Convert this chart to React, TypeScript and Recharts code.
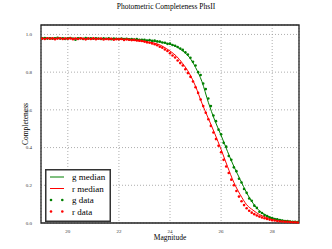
import {
  ComposedChart,
  Line,
  Scatter,
  XAxis,
  YAxis,
  CartesianGrid,
  Legend,
  ReferenceArea,
} from "recharts";

// median curves (magnitude -> completeness)
const medMags = [
  19, 20, 21, 22, 22.5, 23, 23.5, 24, 24.25, 24.5, 24.75, 25, 25.25, 25.5, 25.75, 26, 26.25, 26.5,
  26.75, 27, 27.25, 27.5, 27.75, 28, 28.25, 28.5, 28.75, 29,
];
const gMedian = [
  0.98, 0.98, 0.979, 0.977, 0.975, 0.97, 0.962, 0.948, 0.935, 0.912, 0.88, 0.825, 0.75, 0.64, 0.545,
  0.465, 0.38, 0.3, 0.23, 0.16, 0.105, 0.065, 0.042, 0.027, 0.018, 0.012, 0.008, 0.005,
];
const rMedian = [
  0.98, 0.979, 0.978, 0.975, 0.97, 0.962, 0.95, 0.912, 0.885, 0.845, 0.795, 0.725, 0.635, 0.555,
  0.475, 0.39, 0.3, 0.215, 0.15, 0.097, 0.068, 0.045, 0.031, 0.021, 0.015, 0.01, 0.007, 0.004,
];

// measured points, one every 0.1 mag from 19.0 to 29.0
const dataMags = [
  19.0, 19.1, 19.2, 19.3, 19.4, 19.5, 19.6, 19.7, 19.8, 19.9,
  20.0, 20.1, 20.2, 20.3, 20.4, 20.5, 20.6, 20.7, 20.8, 20.9,
  21.0, 21.1, 21.2, 21.3, 21.4, 21.5, 21.6, 21.7, 21.8, 21.9,
  22.0, 22.1, 22.2, 22.3, 22.4, 22.5, 22.6, 22.7, 22.8, 22.9,
  23.0, 23.1, 23.2, 23.3, 23.4, 23.5, 23.6, 23.7, 23.8, 23.9,
  24.0, 24.1, 24.2, 24.3, 24.4, 24.5, 24.6, 24.7, 24.8, 24.9,
  25.0, 25.1, 25.2, 25.3, 25.4, 25.5, 25.6, 25.7, 25.8, 25.9,
  26.0, 26.1, 26.2, 26.3, 26.4, 26.5, 26.6, 26.7, 26.8, 26.9,
  27.0, 27.1, 27.2, 27.3, 27.4, 27.5, 27.6, 27.7, 27.8, 27.9,
  28.0, 28.1, 28.2, 28.3, 28.4, 28.5, 28.6, 28.7, 28.8, 28.9,
  29.0,
];
const gData = [
  0.979, 0.981, 0.978, 0.98, 0.977, 0.979, 0.982, 0.978, 0.98, 0.976,
  0.979, 0.981, 0.977, 0.972, 0.979, 0.98, 0.976, 0.981, 0.978, 0.979,
  0.977, 0.98, 0.978, 0.976, 0.979, 0.977, 0.98, 0.975, 0.978, 0.977,
  0.976, 0.978, 0.975, 0.977, 0.974, 0.976, 0.973, 0.975, 0.972, 0.971,
  0.972, 0.968, 0.97, 0.966, 0.967, 0.963, 0.962, 0.957, 0.956, 0.95,
  0.951, 0.944, 0.94, 0.933, 0.925, 0.918, 0.905, 0.893, 0.876, 0.855,
  0.835, 0.8, 0.785, 0.74, 0.71, 0.66, 0.62, 0.57, 0.54, 0.495,
  0.47, 0.425, 0.405, 0.355, 0.335, 0.295, 0.275, 0.235, 0.215, 0.18,
  0.16, 0.13, 0.118, 0.092, 0.08, 0.06, 0.053, 0.042, 0.037, 0.029,
  0.026, 0.021, 0.019, 0.015, 0.013, 0.011, 0.01, 0.008, 0.007, 0.006,
  0.005,
];
const rData = [
  0.978, 0.976, 0.98, 0.977, 0.979, 0.975, 0.978, 0.98, 0.976, 0.978,
  0.977, 0.979, 0.975, 0.978, 0.976, 0.979, 0.977, 0.974, 0.978, 0.976,
  0.979, 0.975, 0.977, 0.978, 0.973, 0.976, 0.975, 0.977, 0.972, 0.975,
  0.974, 0.976, 0.971, 0.974, 0.972, 0.97, 0.971, 0.968, 0.967, 0.965,
  0.962, 0.958, 0.956, 0.952, 0.948, 0.943, 0.935, 0.93, 0.92, 0.912,
  0.9, 0.888, 0.878, 0.862, 0.848, 0.835, 0.815, 0.795, 0.775, 0.75,
  0.72, 0.69, 0.655, 0.62, 0.585, 0.55, 0.515, 0.48, 0.445, 0.41,
  0.375, 0.335, 0.3, 0.265, 0.23, 0.2, 0.17, 0.14, 0.115, 0.095,
  0.078, 0.065, 0.055, 0.047, 0.04, 0.034, 0.029, 0.025, 0.021, 0.018,
  0.015, 0.013, 0.011, 0.009, 0.008, 0.007, 0.006, 0.005, 0.004, 0.004,
  0.003,
];

const xTicks = [20, 22, 24, 26, 28];
const yTicks = [0, 0.2, 0.4, 0.6, 0.8, 1.0];

const gMedRows = medMags.map((m, i) => ({ m, v: gMedian[i] }));
const rMedRows = medMags.map((m, i) => ({ m, v: rMedian[i] }));
const gDataRows = dataMags.map((m, i) => ({ m, v: gData[i] }));
const rDataRows = dataMags.map((m, i) => ({ m, v: rData[i] }));

const GREEN = "#008000";
const RED = "#ff0000";
const SERIF = "'Liberation Serif', 'DejaVu Serif', serif";

const dot = (color: string) => (props: any) =>
  <circle cx={props.cx} cy={props.cy} r={1.3} fill={color} />;

function LegendBox() {
  const rows = [
    { label: "g median", color: GREEN, kind: "line" },
    { label: "r median", color: RED, kind: "line" },
    { label: "g data", color: GREEN, kind: "dot" },
    { label: "r data", color: RED, kind: "dot" },
  ];
  return (
    <svg width={66} height={53} style={{ display: "block" }}>
      <rect x={0.75} y={0.75} width={64.5} height={51.5} fill="#fff" stroke="#333" strokeWidth={1.5} />
      {rows.map((r, i) => {
        const y = 8 + i * 11.5;
        return (
          <g key={r.label}>
            {r.kind === "line" ? (
              <line x1={5} x2={19} y1={y} y2={y} stroke={r.color} strokeWidth={1} />
            ) : (
              <>
                <circle cx={6} cy={y} r={1.3} fill={r.color} />
                <circle cx={17.3} cy={y} r={1.3} fill={r.color} />
              </>
            )}
            <text x={27} y={y + 3} fontSize={9} fontFamily={SERIF} fill="#000">
              {r.label}
            </text>
          </g>
        );
      })}
    </svg>
  );
}

export default function App() {
  return (
    <div style={{ position: "absolute", left: 0, top: 0, width: 332, height: 249, background: "#fff" }}>
      <div
        style={{
          position: "absolute",
          top: 2,
          width: 332,
          textAlign: "center",
          fontFamily: SERIF,
          fontSize: 7.5,
          color: "#000",
        }}
      >
        Photometric Completeness PhsII
      </div>
      <ComposedChart width={332} height={249} margin={{ top: 25, right: 33, bottom: 16, left: 21 }}>
        <CartesianGrid stroke="#999" strokeDasharray="1 2" strokeWidth={0.8} />
        <XAxis
          type="number"
          dataKey="m"
          domain={[18.95, 29.05]}
          ticks={xTicks}
          height={10}
          axisLine={false}
          tickLine={false}
          tickMargin={0}
          interval={0}
          tick={{ fontSize: 5, fontFamily: SERIF, fill: "#333" }}
        />
        <YAxis
          type="number"
          dataKey="v"
          domain={[0, 1.05]}
          ticks={yTicks}
          width={20}
          axisLine={false}
          tickLine={false}
          tickMargin={3}
          interval={0}
          tickFormatter={(t: number) => t.toFixed(1)}
          tick={{ fontSize: 5, fontFamily: SERIF, fill: "#333" }}
        />
        <Line data={gMedRows} dataKey="v" type="monotone" stroke={GREEN} strokeWidth={1} dot={false} isAnimationActive={false} />
        <Line data={rMedRows} dataKey="v" type="monotone" stroke={RED} strokeWidth={1} dot={false} isAnimationActive={false} />
        <Scatter data={gDataRows} dataKey="v" fill={GREEN} shape={dot(GREEN)} isAnimationActive={false} />
        <Scatter data={rDataRows} dataKey="v" fill={RED} shape={dot(RED)} isAnimationActive={false} />
        <ReferenceArea x1={18.95} x2={29.05} y1={0} y2={1.05} fill="none" stroke="#222" strokeWidth={1.3} ifOverflow="extendDomain" />
        <Legend
          layout="horizontal"
          verticalAlign="middle"
          align="center"
          wrapperStyle={{ left: 45, top: 169, width: 66, height: 53 }}
          content={() => <LegendBox />}
        />
      </ComposedChart>
      <div
        style={{
          position: "absolute",
          top: 233,
          left: 41,
          width: 258,
          textAlign: "center",
          fontFamily: SERIF,
          fontSize: 7.5,
          color: "#000",
        }}
      >
        Magnitude
      </div>
      <div
        style={{
          position: "absolute",
          left: 25,
          top: 124,
          transform: "translate(-50%, -50%) rotate(-90deg)",
          fontFamily: SERIF,
          fontSize: 7.5,
          color: "#000",
          whiteSpace: "nowrap",
        }}
      >
        Completeness
      </div>
    </div>
  );
}
